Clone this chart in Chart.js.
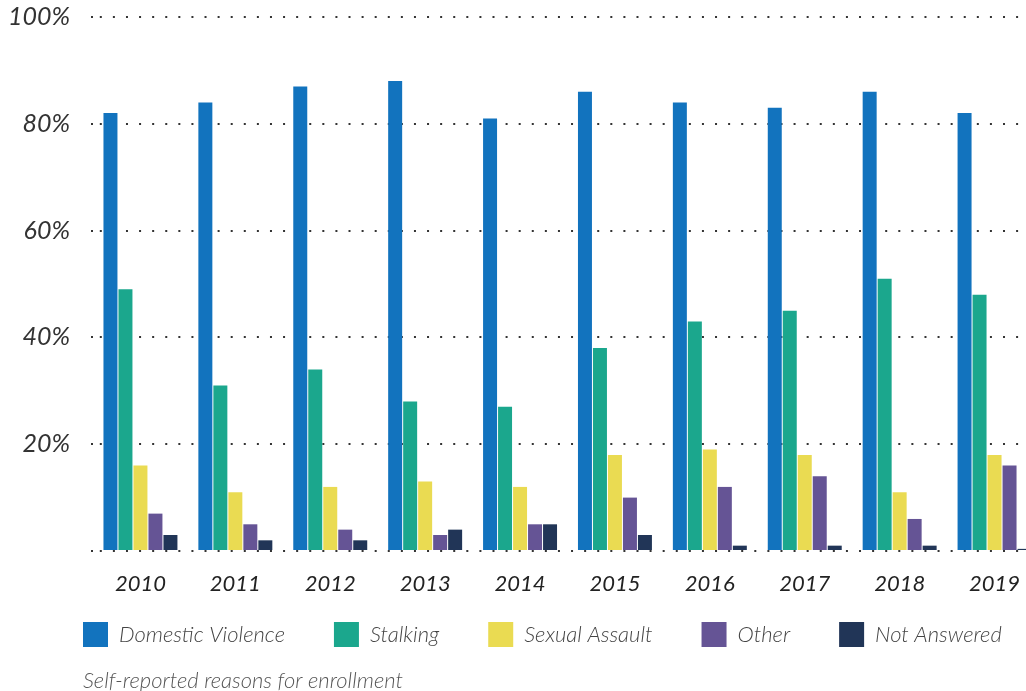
<!DOCTYPE html>
<html>
<head>
<meta charset="utf-8">
<script src="https://cdn.jsdelivr.net/npm/chart.js@4/dist/chart.umd.min.js"></script>
<style>
  html, body { margin: 0; padding: 0; background: #fff; overflow: hidden; width: 1026px; height: 691px; }
  #wrap { position: absolute; left: 0; top: 0; width: 1045px; height: 691px; }
</style>
</head>
<body>
<div id="wrap"><canvas id="c" width="1045" height="691"></canvas></div>
<script>
const years = ['2010', '2011', '2012', '2013', '2014', '2015', '2016', '2017', '2018', '2019'];
const domesticViolence = [82, 84, 87, 88, 81, 86, 84, 83, 86, 82];
const stalking = [49, 31, 34, 28, 27, 38, 43, 45, 51, 48];
const sexualAssault = [16, 11, 12, 13, 12, 18, 19, 18, 11, 18];
const other = [7, 5, 4, 3, 5, 10, 12, 14, 6, 16];
const notAnswered = [3, 2, 2, 4, 5, 3, 1, 1, 1, 0.4];
const seriesNames = ['Domestic Violence', 'Stalking', 'Sexual Assault', 'Other', 'Not Answered'];
const seriesColors = ['#1273BE', '#1BA78D', '#EADB52', '#655495', '#213557'];
const yTickValues = [0, 20, 40, 60, 80, 100];
const caption = 'Self-reported reasons for enrollment';

const seriesValues = [domesticViolence, stalking, sexualAssault, other, notAnswered];

const placeBlocks = {
  id: 'placeBlocks',
  afterLayout(chart) {
    const lg = chart.legend;
    if (lg) {
      const P = lg.options.labels.padding;
      lg.left = 83 - P;
      lg.right = lg.left + 1300;
      lg.top = 622 - P;
      lg.bottom = lg.top + 130;
    }
    chart.boxes.forEach(b => {
      if (b !== lg && b.options && b.options.text === caption) {
        const h = b.height;
        b.left = 83;
        b.right = 83 + 900;
        b.top = 668;
        b.bottom = 668 + h;
      }
    });
  }
};

new Chart(document.getElementById('c'), {
  type: 'bar',
  data: {
    labels: years,
    datasets: seriesNames.map((name, i) => ({
      label: name,
      data: seriesValues[i],
      backgroundColor: seriesColors[i],
      borderWidth: 0,
      categoryPercentage: 0.79,
      barPercentage: 0.933
    }))
  },
  options: {
    responsive: false,
    animation: false,
    devicePixelRatio: 1,
    layout: { padding: { top: 17, right: 3, left: 0, bottom: 1 } },
    scales: {
      x: {
        grid: { display: false, drawTicks: false },
        border: { display: false },
        ticks: {
          padding: 20,
          color: '#222',
          font: { family: 'Lato', style: 'italic', size: 22 }
        },
        afterFit(s) { s.height = 45; }
      },
      y: {
        min: 0,
        max: 100,
        afterBuildTicks(s) { s.ticks = yTickValues.map(v => ({ value: v })); },
        grid: {
          color: '#333',
          lineWidth: 2,
          drawTicks: true,
          tickLength: 7,
          tickColor: '#333',
          tickWidth: 2,
          tickBorderDash: [2, 11.09],
          tickBorderDashOffset: 8.09
        },
        border: { display: false, dash: [2, 11.09], dashOffset: 6.29 },
        ticks: {
          padding: 16,
          color: '#333',
          font: { family: 'Lato', style: 'italic', size: 25 },
          callback: v => (v === 0 ? '' : v + '%')
        },
        afterFit(s) { s.width = 93; s.paddingTop = 0; s.paddingBottom = 0; }
      }
    },
    plugins: {
      tooltip: { enabled: false },
      legend: {
        display: true,
        position: 'bottom',
        align: 'start',
        maxHeight: 67.6,
        labels: {
          boxWidth: 25,
          boxHeight: 25,
          padding: 49,
          color: '#444',
          font: { family: 'Lato', style: 'italic', weight: 300, size: 22 }
        }
      },
      subtitle: {
        display: true,
        text: caption,
        position: 'bottom',
        align: 'start',
        color: '#555',
        padding: 0,
        font: { family: 'Lato', style: 'italic', weight: 300, size: 22 }
      }
    }
  },
  plugins: [placeBlocks]
});
</script>
</body>
</html>
